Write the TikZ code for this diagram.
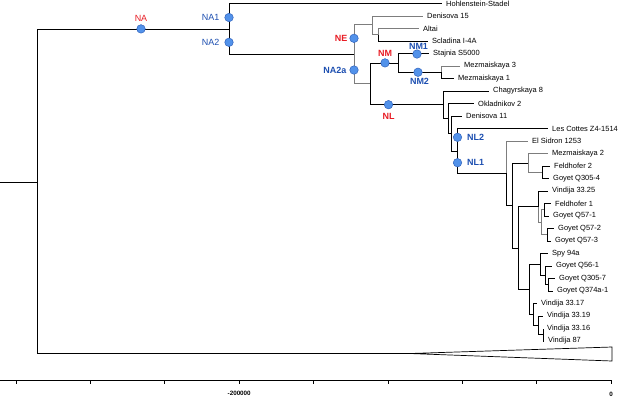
\documentclass[tikz,border=0pt]{standalone}
\usepackage{fontspec}
\setmainfont{Liberation Sans}
\usetikzlibrary{positioning}
\definecolor{lblrot}{RGB}{232,28,36}
\definecolor{lblblau}{RGB}{28,78,176}
\definecolor{punktfill}{RGB}{82,146,234}
\definecolor{punktrand}{RGB}{48,98,188}
\definecolor{astgrau}{RGB}{125,125,125}

\begin{document}
\begin{tikzpicture}[x=1bp, y=-1bp,
    ast/.style={line width=0.7bp},
    astg/.style={line width=0.7bp, draw=astgrau},
    blatt/.style={anchor=west, inner xsep=4bp, inner ysep=0pt, font=\fontsize{7.5}{8}\selectfont},
    punkt/.style={circle, draw=punktrand, fill=punktfill, line width=0.5bp, minimum size=8.5bp, inner sep=0pt},
    rot/.style={text=lblrot, inner sep=0pt, font=\fontsize{9}{10}\selectfont\bfseries},
    blau/.style={text=lblblau, inner sep=0pt, font=\fontsize{9}{10}\selectfont\bfseries},
    duenn/.style={font=\fontsize{9}{10}\selectfont},
    achse/.style={inner sep=0pt, font=\fontsize{6.3}{7}\selectfont\bfseries}]

    % Rahmen wie im Bild
    \useasboundingbox (0,0) rectangle (620,398);

    % Wurzel
    \coordinate (stumpf) at (0,182);
    \coordinate (wurzel) at (37,182);

    % Innere Knoten
    \coordinate (kNA) at (229,28.9);
    \coordinate (kNA2a) at (354,54.3);
    \coordinate (kNE) at (372,24.75);
    \coordinate (kAltai) at (378,34.75);
    \coordinate (kNML) at (370,83.8);
    \coordinate (kNM) at (398,62.9);
    \coordinate (kNM2) at (441,72.25);
    \coordinate (kNL) at (443,104.7);
    \coordinate (kOkl) at (448,118.5);
    \coordinate (kDen11) at (451,133.4);
    \coordinate (kLC) at (457,150.9);
    \coordinate (kNL1) at (506,173.2);
    \coordinate (kElS) at (512,205.5);
    \coordinate (kMez2) at (528,162.9);
    \coordinate (kFeld2) at (542,172.25);
    \coordinate (kMitte) at (518,248);
    \coordinate (kVin) at (538,206.6);
    \coordinate (kQ57) at (541,222.25);
    \coordinate (kFeld1) at (544,209.75);
    \coordinate (kQ57b) at (547,234.75);
    \coordinate (kSpyV) at (529,289.4);
    \coordinate (kSpy) at (540,264.4);
    \coordinate (kQ56) at (545,275.4);
    \coordinate (kQ305) at (548,284.75);
    \coordinate (kV17) at (533,314.5);
    \coordinate (kV19) at (538,325.4);
    \coordinate (kV16) at (543,334.75);

    % Zusammengeklappter Ast unten
    \coordinate (keil) at (410,353.5);
    \coordinate (keilO) at (612,347);
    \coordinate (keilU) at (612,361);

    % Blätter
    \node[blatt] (hs) at (442,3.5) {Hohlenstein-Stadel};
    \node[blatt] (d15) at (423,16) {Denisova 15};
    \node[blatt] (alt) at (419,28.5) {Altai};
    \node[blatt] (scl) at (428,41) {Scladina I-4A};
    \node[blatt] (sta) at (429,53.5) {Stajnia S5000};
    \node[blatt] (mz3) at (460,66) {Mezmaiskaya 3};
    \node[blatt] (mz1) at (454,78.5) {Mezmaiskaya 1};
    \node[blatt] (cha) at (489,91) {Chagyrskaya 8};
    \node[blatt] (okl) at (474,103.5) {Okladnikov 2};
    \node[blatt] (d11) at (462,116) {Denisova 11};
    \node[blatt] (lct) at (548,128.5) {Les Cottes Z4-1514};
    \node[blatt] (els) at (528,141) {El Sidron 1253};
    \node[blatt] (mz2) at (548,153.5) {Mezmaiskaya 2};
    \node[blatt] (fh2) at (550,166) {Feldhofer 2};
    \node[blatt] (g3054) at (549,178.5) {Goyet Q305-4};
    \node[blatt] (v25) at (548,191) {Vindija 33.25};
    \node[blatt] (fh1) at (551,203.5) {Feldhofer 1};
    \node[blatt] (g571) at (549,216) {Goyet Q57-1};
    \node[blatt] (g572) at (554,228.5) {Goyet Q57-2};
    \node[blatt] (g573) at (551,241) {Goyet Q57-3};
    \node[blatt] (spy) at (548,253.5) {Spy 94a};
    \node[blatt] (g561) at (552,266) {Goyet Q56-1};
    \node[blatt] (g3057) at (555,278.5) {Goyet Q305-7};
    \node[blatt] (g374) at (553,291) {Goyet Q374a-1};
    \node[blatt] (v17) at (537,303.5) {Vindija 33.17};
    \node[blatt] (v19) at (543,316) {Vindija 33.19};
    \node[blatt] (v16) at (543,328.5) {Vindija 33.16};
    \node[blatt] (v87) at (544,341) {Vindija 87};

    % Äste oben
    \draw[ast] (stumpf) -- (wurzel);
    \draw[ast] (wurzel) |- (kNA);
    \draw[ast] (wurzel) |- (keil);
    \draw[ast] (keil) -- (keilO) -- (keilU) -- cycle;
    \draw[ast] (kNA) |- (hs.west);
    \draw[ast] (kNA) |- (kNA2a);
    \draw[astg] (kNA2a) |- (kNE);
    \draw[astg] (kNA2a) |- (kNML);
    \draw[astg] (kNE) |- (d15.west);
    \draw[astg] (kNE) |- (kAltai);
    \draw[astg] (kAltai) |- (alt.west);
    \draw[ast] (kAltai) |- (scl.west);
    \draw[ast] (kNML) |- (kNM);
    \draw[ast] (kNML) |- (kNL);
    \draw[ast] (kNM) |- (sta.west);
    \draw[ast] (kNM) |- (kNM2);
    \draw[astg] (kNM2) |- (mz3.west);
    \draw[ast] (kNM2) |- (mz1.west);

    % Äste NL
    \draw[ast] (kNL) |- (cha.west);
    \draw[ast] (kNL) |- (kOkl);
    \draw[ast] (kOkl) |- (okl.west);
    \draw[ast] (kOkl) |- (kDen11);
    \draw[ast] (kDen11) |- (d11.west);
    \draw[ast] (kDen11) |- (kLC);
    \draw[ast] (kLC) |- (lct.west);
    \draw[ast] (kLC) |- (kNL1);
    \draw[astg] (kNL1) |- (els.west);
    \draw[ast] (kNL1) |- (kElS);
    \draw[ast] (kElS) |- (kMez2);
    \draw[ast] (kElS) |- (kMitte);
    \draw[astg] (kMez2) |- (mz2.west);
    \draw[astg] (kMez2) |- (kFeld2);
    \draw[ast] (kFeld2) |- (fh2.west);
    \draw[ast] (kFeld2) |- (g3054.west);
    \draw[ast] (kMitte) |- (kVin);
    \draw[ast] (kMitte) |- (kSpyV);
    \draw[ast] (kVin) |- (v25.west);
    \draw[astg] (kVin) |- (kQ57);
    \draw[astg] (kQ57) |- (kFeld1);
    \draw[astg] (kQ57) |- (kQ57b);
    \draw[ast] (kFeld1) |- (fh1.west);
    \draw[ast] (kFeld1) |- (g571.west);
    \draw[ast] (kQ57b) |- (g572.west);
    \draw[ast] (kQ57b) |- (g573.west);
    \draw[ast] (kSpyV) |- (kSpy);
    \draw[ast] (kSpyV) |- (kV17);
    \draw[ast] (kSpy) |- (spy.west);
    \draw[ast] (kSpy) |- (kQ56);
    \draw[ast] (kQ56) |- (g561.west);
    \draw[ast] (kQ56) |- (kQ305);
    \draw[ast] (kQ305) |- (g3057.west);
    \draw[ast] (kQ305) |- (g374.west);
    \draw[ast] (kV17) |- (v17.west);
    \draw[ast] (kV17) |- (kV19);
    \draw[ast] (kV19) |- (v19.west);
    \draw[ast] (kV19) |- (kV16);
    \draw[ast] (kV16) |- (v16.west);
    \draw[ast] (kV16) |- (v87.west);

    % Markierte Äste
    \node[punkt] (dNA) at (141,28.9) {};
    \node[rot, duenn, above=2.5bp of dNA] (tNA) {NA};
    \node[punkt] (dNA1) at (229,17.5) {};
    \node[blau, duenn, left=5bp of dNA1] (tNA1) {NA1};
    \node[punkt] (dNA2) at (229,42.3) {};
    \node[blau, duenn, left=5bp of dNA2] (tNA2) {NA2};
    \node[punkt] (dNE) at (354,38.3) {};
    \node[rot, left=2bp of dNE] (tNE) {NE};
    \node[punkt] (dNA2a) at (354,70) {};
    \node[blau, left=3bp of dNA2a] (tNA2a) {NA2a};
    \node[punkt] (dNM) at (385,62.9) {};
    \node[rot, above=2bp of dNM] (tNM) {NM};
    \node[punkt] (dNM1) at (417,54) {};
    \node[blau, above=0bp of dNM1, xshift=1.5bp] (tNM1) {NM1};
    \node[punkt] (dNM2) at (418,72.25) {};
    \node[blau, below=1.5bp of dNM2, xshift=1.5bp] (tNM2) {NM2};
    \node[punkt] (dNL) at (388.5,104.7) {};
    \node[rot, below=4bp of dNL] (tNL) {NL};
    \node[punkt] (dNL2) at (457.5,137.3) {};
    \node[blau, right=5bp of dNL2] (tNL2) {NL2};
    \node[punkt] (dNL1) at (457.5,162.7) {};
    \node[blau, right=5bp of dNL1] (tNL1) {NL1};

    % Zeitachse
    \coordinate (achseL) at (0,380);
    \coordinate (achseR) at (611.5,380);
    \draw[ast] (achseL) -- (achseR);
    \draw[ast] (16,380) -- (16,384) (90.4,380) -- (90.4,384)
        (164.8,380) -- (164.8,384) (239.2,380) -- (239.2,384)
        (313.6,380) -- (313.6,384) (388,380) -- (388,384)
        (462.4,380) -- (462.4,384) (536.8,380) -- (536.8,384)
        (611.2,380) -- (611.2,384);
    \node[achse] (tM200) at (239.2,393) {-200000};
    \node[achse] (tNull) at (611.2,394) {0};
\end{tikzpicture}
\end{document}
